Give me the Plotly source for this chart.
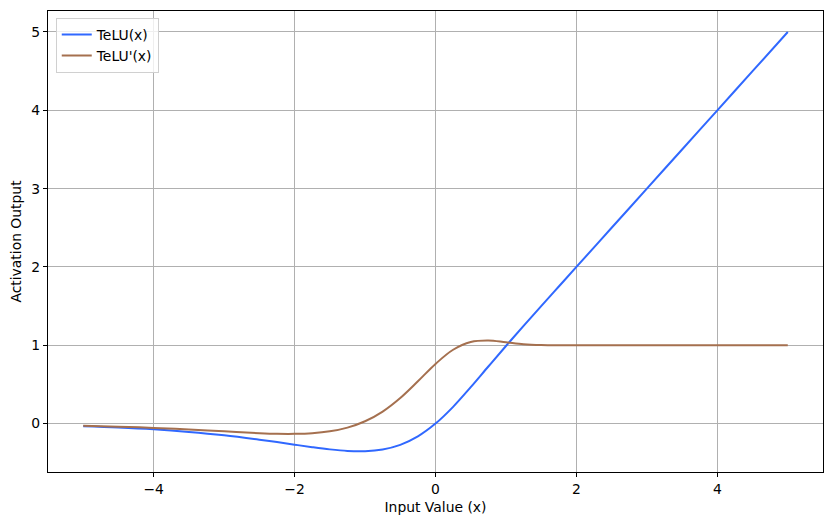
import plotly.graph_objects as go

# values
x_vals = [-5.0, -4.5, -4.0, -3.5, -3.0, -2.5, -2.25, -2.0, -1.75, -1.5, -1.25,
          -1.0, -0.75, -0.5, -0.25, 0.0, 0.25, 0.5, 0.75, 1.0, 1.25, 1.5, 1.75,
          2.0, 2.5, 3.0, 3.5, 4.0, 4.5, 5.0]
telu = [-0.034, -0.050, -0.073, -0.106, -0.149, -0.205, -0.236, -0.269, -0.301,
        -0.329, -0.349, -0.352, -0.330, -0.271, -0.163, 0.0, 0.214, 0.465, 0.729,
        0.991, 1.248, 1.500, 1.750, 2.0, 2.5, 3.0, 3.5, 4.0, 4.5, 5.0]
telu_grad = [-0.027, -0.039, -0.055, -0.075, -0.099, -0.122, -0.130, -0.131,
             -0.123, -0.099, -0.051, 0.030, 0.154, 0.327, 0.540, 0.762, 0.943,
             1.042, 1.061, 1.038, 1.014, 1.003, 1.000, 1.0, 1.0, 1.0, 1.0, 1.0,
             1.0, 1.0]

fs = 13.9

fig = go.Figure()
fig.add_trace(go.Scatter(x=x_vals, y=telu, mode="lines", name="TeLU(x)",
                         line=dict(color="#3068ff", width=2, shape="spline")))
fig.add_trace(go.Scatter(x=x_vals, y=telu_grad, mode="lines", name="TeLU'(x)",
                         line=dict(color="#a5704f", width=2, shape="spline")))

axis_style = dict(
    showline=True, linecolor="black", linewidth=1.2, mirror=True,
    ticks="outside", ticklen=4, tickcolor="black",
    showgrid=True, gridcolor="#b0b0b0", gridwidth=0.8, zeroline=False,
    tickfont=dict(size=fs, color="black"), automargin=False,
)

# page body has an 8px margin, so the figure is shifted by 8px
fig.update_layout(
    width=833, height=525,
    margin=dict(l=40, r=18, t=3, b=61),
    plot_bgcolor="white", paper_bgcolor="white",
    font=dict(family="DejaVu Sans", size=fs, color="black"),
    legend=dict(x=0.01, y=0.985, xanchor="left", yanchor="top",
                bgcolor="rgba(255,255,255,0.8)", bordercolor="#d0d0d0",
                borderwidth=1, font=dict(size=fs), itemwidth=30),
)
fig.update_xaxes(range=[-5.5, 5.5], tickvals=[-4, -2, 0, 2, 4],
                 title=dict(text="Input Value (x)", standoff=6, font=dict(size=fs)),
                 **axis_style)
fig.update_yaxes(range=[-0.618, 5.268], tickvals=[0, 1, 2, 3, 4, 5],
                 title=dict(text="Activation Output", standoff=8, font=dict(size=fs)),
                 **axis_style)

fig.write_html("out.html")
